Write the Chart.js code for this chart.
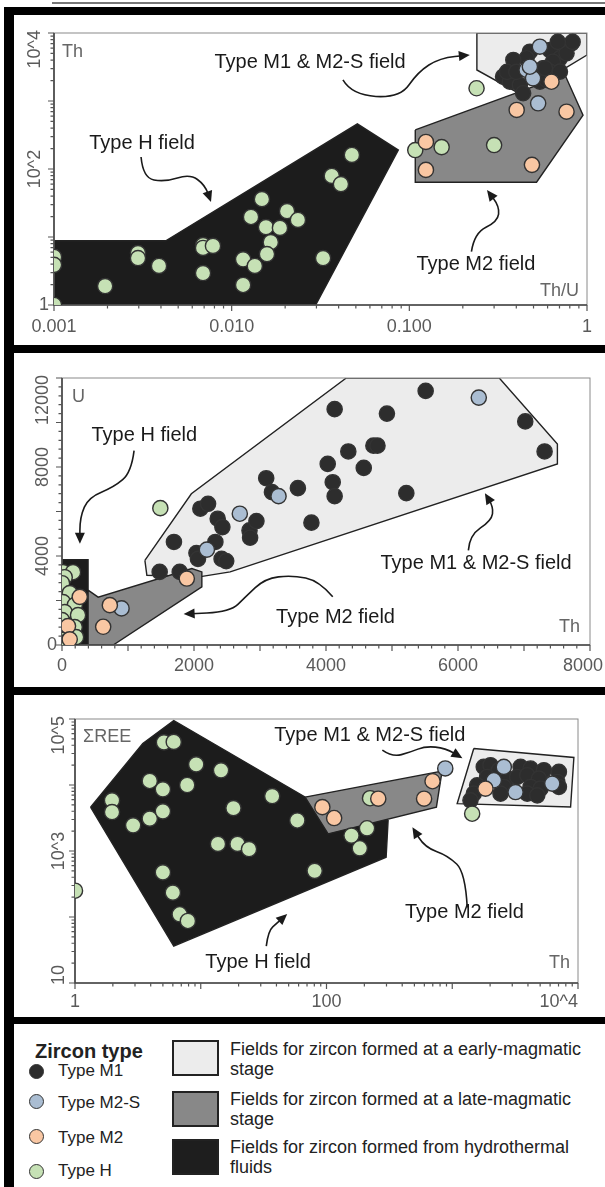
<!DOCTYPE html>
<html>
<head>
<meta charset="utf-8">
<script src="https://cdn.jsdelivr.net/npm/chart.js@4.4.0/dist/chart.umd.min.js"></script>
<style>
  body { margin: 0; background: #fff; width: 605px; height: 1187px; overflow: hidden; position: relative;
         font-family: "Liberation Sans", Arial, Helvetica, sans-serif; color: #222; }
  .bar { position: absolute; background: #000; }
  .panel { position: absolute; left: 15px; }
  .dot { position: absolute; width: 13px; height: 13px; border-radius: 50%; border: 1.5px solid #333; }
  .lt { position: absolute; left: 58px; font-size: 17px; line-height: 20px; }
  .sw { position: absolute; left: 172px; width: 43px; height: 32px; border: 2px solid #222; }
  .st { position: absolute; left: 230px; font-size: 18px; line-height: 20px; white-space: nowrap; }
</style>
</head>
<body>
<div style="position:absolute;left:52px;top:2px;width:553px;height:2px;background:#777"></div>
<div class="bar" style="left:4px;top:7px;width:10px;height:1180px"></div>
<div class="bar" style="left:4px;top:7px;width:601px;height:8px"></div>
<div class="bar" style="left:4px;top:345px;width:601px;height:8px"></div>
<div class="bar" style="left:4px;top:687px;width:601px;height:8px"></div>
<div class="bar" style="left:4px;top:1017px;width:601px;height:7px"></div>

<div class="panel" style="top:15px"><canvas id="c1" width="590" height="330"></canvas></div>
<div class="panel" style="top:353px"><canvas id="c2" width="590" height="334"></canvas></div>
<div class="panel" style="top:695px"><canvas id="c3" width="590" height="322"></canvas></div>

<!-- legend -->
<div style="position:absolute;left:35px;top:1039px;font-size:20px;font-weight:bold;line-height:24px">Zircon type</div>
<div class="dot" style="left:29px;top:1064px;background:#2d2d2d"></div><div class="lt" style="top:1061px">Type M1</div>
<div class="dot" style="left:29px;top:1094px;background:#aabdd2"></div><div class="lt" style="top:1093px">Type M2-S</div>
<div class="dot" style="left:29px;top:1129px;background:#f9c7a3"></div><div class="lt" style="top:1128px">Type M2</div>
<div class="dot" style="left:29px;top:1164px;background:#c6e1b5"></div><div class="lt" style="top:1161px">Type H</div>
<div class="sw" style="top:1040px;background:#ececec"></div>
<div class="st" style="top:1039px">Fields for zircon formed at a early-magmatic<br>stage</div>
<div class="sw" style="top:1091px;background:#888"></div>
<div class="st" style="top:1089px">Fields for zircon formed at a late-magmatic<br>stage</div>
<div class="sw" style="top:1139px;background:#1e1e1e"></div>
<div class="st" style="top:1137px">Fields for zircon formed from hydrothermal<br>fluids</div>

<script>
// ---------- panel 1 : Th/U vs Th ----------
const thu_M1 = [[0.818,7060],[0.704,6660],[0.618,5620],[0.477,5310],[0.457,4250],[0.385,4010],[0.704,4250],
  [0.767,5030],[0.643,3780],[0.565,3030],[0.618,2700],[0.337,2280],[0.368,1920],[0.419,1720],[0.437,1300],
  [0.543,1920],[0.593,2040],[0.704,2700],[0.83,7400],[0.685,7400],[0.355,2680],[0.40,2680],[0.58,3050],[0.495,2250]];
const thu_M2S = [[0.543,6290],[0.457,2860],[0.497,2160],[0.531,925],[0.477,3190]];
const thu_M2 = [[0.124,250],[0.124,97],[0.49,115],[0.402,738],[0.767,696],[0.631,1920]];
const thu_H = [[0.001,5.1],[0.001,3.9],[0.001,1],[0.00194,1.9],[0.00297,5.8],[0.00297,4.9],[0.0039,3.75],
  [0.0069,7.6],[0.0069,6.9],[0.00785,7.4],[0.0069,2.95],[0.0116,4.7],[0.0116,1.97],[0.0135,3.75],[0.01285,19.7],
  [0.0148,36],[0.0156,14],[0.0166,8.4],[0.0158,5.6],[0.0187,13.6],[0.0205,24],[0.0236,17.8],[0.0327,4.9],
  [0.0366,79],[0.0412,60],[0.0475,161],[0.108,190],[0.152,210],[0.30,225],[0.239,1540]];
const thu_fieldH = [[0.001,1],[0.001,8.8],[0.00426,8.8],[0.051,460],[0.0867,190],[0.0297,1]];
const thu_fieldM2 = [[0.108,375],[0.752,2410],[0.95,620],[0.52,64],[0.108,64]];
const thu_fieldM1 = [[0.24,10000],[0.24,2860],[0.45,1150],[0.70,2700],[1,4750],[1,10000]];
const thu_xTickVals = [0.001, 0.01, 0.1, 1];
const thu_xTickText = ['0.001', '0.010', '0.100', '1'];
const thu_yTickVals = [1, 100, 10000];
const thu_yTickText = ['1', '10^2', '10^4'];
const thu_notes = [['Type M1 & M2-S field', 0.0276, 3630], ['Type H field', 0.00313, 241], ['Type M2 field', 0.237, 3.88]];
const thu_arrows = [
  [[0.0423,2040],[0.0475,1225],[0.0885,1107],[0.1117,2670],[0.1486,4290],[0.219,4750]],
  [[0.00309,150],[0.00317,73.7],[0.00421,64.4],[0.00582,84.4],[0.00708,58.2],[0.00765,32.7]],
  [[0.2236,6.08],[0.2323,11.45],[0.314,16.8],[0.322,27.9],[0.2735,49.1]]
];

// ---------- panel 2 : Th vs U ----------
const u_M1 = [[5510,11420],[4131,10600],[4923,10400],[7019,10050],[7312,8700],[4338,8700],[4718,8960],[4780,8960],
  [4026,8140],[4572,7960],[4102,7315],[4131,6690],[3094,7495],[3181,6870],[3574,7050],[5217,6825],[3779,5500],
  [2096,6125],[2213,6345],[2359,5675],[2430,5300],[2841,5150],[2946,5570],[2850,4820],[1696,4630],[2324,4630],
  [2037,4135],[2060,3870],[2418,3870],[2488,3770],[1480,3285],[1784,3285]];
const u_M2S = [[6315,11120],[3281,6690],[2694,5900],[2195,4285],[902,1644]];
const u_M2 = [[1891,2987],[269,2164],[725,1792],[624,820],[91,851],[117,255]];
const u_H = [[1490,6150],[15,3270],[167,3270],[41,3046],[0,2777],[117,2330],[15,1926],[193,1792],[41,1478],
  [243,1344],[0,1120],[193,806],[15,672],[213,358],[0,224],[61,134]];
const u_fieldH = [[0,0],[0,3839],[395,3839],[395,0]];
const u_fieldM2 = [[395,2464],[548,2150],[1967,3436],[2119,3283],[2119,2612],[776,0],[395,0]];
const u_fieldM1 = [[1256,3807],[1960,6795],[4307,12000],[6625,12000],[7506,9035],[7506,8140],[2548,3285],[2078,3060],[1286,3135]];
const u_xTickVals = [0, 2000, 4000, 6000, 8000];
const u_xTickText = ['0', '2000', '4000', '6000', '8000'];
const u_yTickVals = [0, 4000, 8000, 12000];
const u_yTickText = ['0', '4000', '8000', '12000'];
const u_notes = [['Type H field', 1247, 9406], ['Type M1 & M2-S field', 6274, 3650], ['Type M2 field', 4144, 1232]];
const u_arrows = [
  [[1092,8735],[1051,7764],[787,7092],[406,6644],[271,5748],[271,4555]],
  [[4102,2164],[3897,2880],[3486,3135],[3075,2987],[2782,2164],[2548,1492],[1843,1389]],
  [[6157,4255],[6173,4927],[6508,5599],[6537,6195],[6408,6823]]
];

// ---------- panel 3 : Th vs sum REE ----------
const ree_M1 = [[1781,18800],[2014,19950],[2344,16750],[3493,18800],[4195,17780],[5354,16750],[7047,15790],
  [1895,13250],[2737,12500],[3286,13250],[3948,14060],[4886,12500],[6839,11120],[1578,9890],[2571,9330],
  [4195,9330],[5036,8810],[7047,9330],[1483,7390],[2420,7390],[3948,7390],[4744,6970],[1396,5850]];
const ree_M2S = [[2571,18800],[2140,11800],[6242,10500],[3187,7820],[880,17800]];
const ree_M2 = [[92.7,4620],[115,3160],[258,6200],[597,6200],[697,11400],[1837,8810]];
const ree_H = [[1,250],[1.97,5840],[1.97,3890],[2.9,2450],[3.93,11500],[3.93,3090],[5.1,44200],[6.1,45000],
  [5.0,8600],[5.0,3990],[5.0,474],[6.0,234],[6.8,110],[7.9,87],[7.8,10000],[9.2,20500],[14.5,16700],[13.7,1280],
  [19.6,1280],[24.2,1070],[18.2,4470],[37,6800],[58.6,2900],[80.5,500],[158,1710],[210,2210],[184,1100],
  [222,6300],[1440,3670]];
const ree_fieldH = [[1.33,4620],[3.46,42700],[6.1,95000],[67.6,6560],[309,2900],[298,804],[6.1,36.3]];
const ree_fieldM2 = [[67.6,6560],[830,16200],[748,4620],[103,1820]];
const ree_fieldM1 = [[1483,35800],[9275,26100],[8730,4630],[1094,5210]];
const ree_xTickVals = [1, 100, 10000];
const ree_xTickText = ['1', '100', '10^4'];
const ree_yTickVals = [10, 1000, 100000];
const ree_yTickText = ['10', '10^3', '10^5'];
const ree_notes = [['Type M1 & M2-S field', 221, 57000], ['Type M2 field', 1250, 117.5], ['Type H field', 28.6, 20.4]];
const ree_arrows = [
  [[33.2,36.3],[34.4,61.4],[40.6,81.3],[48.7,111]],
  [[1316,139],[1271,474],[925,851],[605,1138],[482,2297]],
  [[278,33700],[334,26400],[465,31500],[612,38800],[883,36200],[1205,25500]]
];

const FONT = '"Liberation Sans", Arial, Helvetica, sans-serif';
const COL = { M1: '#2d2d2d', M2S: '#aabdd2', M2: '#f9c7a3', H: '#c6e1b5',
              fM1: '#ececec', fM2: '#888888', fH: '#1c1c1c' };

function logMinor(e0, e1) {
  const out = [];
  for (let e = e0; e < e1; e++) for (let k = 2; k <= 9; k++) out.push(k * Math.pow(10, e));
  return out;
}
function logMajor(e0, e1) {
  const out = [];
  for (let e = e0; e <= e1; e++) out.push(Math.pow(10, e));
  return out;
}
function steps(a, b, s, skip) {
  const out = [];
  for (let v = a; v <= b + 1e-9; v += s) if (!skip || v % skip !== 0) out.push(v);
  return out;
}

const cfgs = {};

function drawArrow(ctx, p) {
  ctx.beginPath();
  ctx.moveTo(p[0][0], p[0][1]);
  for (let i = 1; i < p.length - 1; i++) {
    ctx.quadraticCurveTo(p[i][0], p[i][1], (p[i][0] + p[i + 1][0]) / 2, (p[i][1] + p[i + 1][1]) / 2);
  }
  const e = p[p.length - 1], b = p[p.length - 2];
  const ang = Math.atan2(e[1] - b[1], e[0] - b[0]);
  const L = 11, W = 5;
  ctx.lineTo(e[0] - Math.cos(ang) * L * 0.7, e[1] - Math.sin(ang) * L * 0.7);
  ctx.stroke();
  ctx.beginPath();
  ctx.moveTo(e[0], e[1]);
  ctx.lineTo(e[0] - L * Math.cos(ang) + W * Math.sin(ang), e[1] - L * Math.sin(ang) - W * Math.cos(ang));
  ctx.lineTo(e[0] - L * Math.cos(ang) - W * Math.sin(ang), e[1] - L * Math.sin(ang) + W * Math.cos(ang));
  ctx.closePath();
  ctx.fill();
}

const framePlugin = {
  id: 'frame',
  afterDatasetDraw(chart, args) {
    if (!chart.data.datasets[args.index].lastField) return;
    const a = chart.chartArea, ctx = chart.ctx;
    ctx.save();
    ctx.strokeStyle = '#8a8a8a'; ctx.lineWidth = 1;
    ctx.strokeRect(a.left, a.top, a.right - a.left, a.bottom - a.top);
    ctx.strokeStyle = '#444'; ctx.lineWidth = 1.6;
    ctx.beginPath();
    ctx.moveTo(a.left, a.top); ctx.lineTo(a.left, a.bottom); ctx.lineTo(a.right, a.bottom);
    ctx.stroke();
    ctx.restore();
  },
  afterDatasetsDraw(chart) {
    const c = cfgs[chart.canvas.id], ctx = chart.ctx, a = chart.chartArea;
    const xs = chart.scales.x, ys = chart.scales.y;
    ctx.save();
    ctx.fillStyle = '#1a1a1a'; ctx.strokeStyle = '#1a1a1a'; ctx.lineWidth = 1.6;
    ctx.font = '20px ' + FONT; ctx.textAlign = 'center'; ctx.textBaseline = 'middle';
    c.notes.forEach(n => ctx.fillText(n[0], xs.getPixelForValue(n[1]), ys.getPixelForValue(n[2])));
    c.arrows.forEach(ar => drawArrow(ctx, ar.map(q => [xs.getPixelForValue(q[0]), ys.getPixelForValue(q[1])])));
    // axis names inside the frame
    ctx.fillStyle = '#666'; ctx.font = '18px ' + FONT;
    ctx.textAlign = 'left';
    ctx.fillText(c.yName, a.left + c.yNamePos[0], a.top + c.yNamePos[1]);
    ctx.textAlign = 'right';
    ctx.fillText(c.xName, a.right - c.xNamePos[0], a.bottom - c.xNamePos[1]);
    ctx.restore();
  },
  afterDraw(chart) {
    const c = cfgs[chart.canvas.id], ctx = chart.ctx, a = chart.chartArea;
    const xs = chart.scales.x, ys = chart.scales.y;
    ctx.save();
    ctx.strokeStyle = '#555'; ctx.lineWidth = 1.2;
    ctx.beginPath();
    c.xLong.forEach(v => { const px = xs.getPixelForValue(v); ctx.moveTo(px, a.bottom); ctx.lineTo(px, a.bottom + 6); });
    c.xShort.forEach(v => { const px = xs.getPixelForValue(v); ctx.moveTo(px, a.bottom); ctx.lineTo(px, a.bottom + 3.5); });
    c.yLong.forEach(v => { const py = ys.getPixelForValue(v); ctx.moveTo(a.left, py); ctx.lineTo(a.left - 6, py); });
    c.yShort.forEach(v => { const py = ys.getPixelForValue(v); ctx.moveTo(a.left, py); ctx.lineTo(a.left - 3.5, py); });
    ctx.stroke();
    ctx.fillStyle = '#5a5a5a'; ctx.font = '18px ' + FONT;
    ctx.textAlign = 'center'; ctx.textBaseline = 'middle';
    c.xTickVals.forEach((v, i) => {
      const t = c.xTickText[i], w = ctx.measureText(t).width;
      let px = xs.getPixelForValue(v);
      if (c.lastRight && i === c.xTickVals.length - 1) px -= w / 2;
      px = Math.min(px, chart.width - w / 2 - 2);
      ctx.fillText(t, px, a.bottom + c.xGap);
    });
    c.yTickVals.forEach((v, i) => {
      const t = c.yTickText[i], w = ctx.measureText(t).width;
      let py = ys.getPixelForValue(v);
      if (t.length === 1) {
        ctx.textAlign = 'right';
        ctx.fillText(t, a.left - 5, py);
        ctx.textAlign = 'center';
        return;
      }
      py = Math.max(a.top + w / 2 - 3, Math.min(a.bottom - w / 2 + 2, py));
      ctx.save();
      ctx.translate(a.left - c.yGap, py);
      ctx.rotate(-Math.PI / 2);
      ctx.fillText(t, 0, 0);
      ctx.restore();
    });
    ctx.restore();
  }
};

function makeChart(id, c) {
  cfgs[id] = c;
  const pts = arr => arr.map(p => ({ x: p[0], y: p[1] }));
  const field = (arr, color, order, last) => ({
    type: 'line', data: pts(arr.concat([arr[0]])), fill: 'shape', backgroundColor: color,
    borderColor: '#222', borderWidth: 1.4, pointRadius: 0, tension: 0, order: order, lastField: !!last
  });
  const group = (arr, color, order) => ({
    data: pts(arr), backgroundColor: color, borderColor: '#333', borderWidth: 1.4,
    pointRadius: 7.6, pointHoverRadius: 7.6, order: order
  });
  const axis = (type, min, max, fit) => ({
    type: type, min: min, max: max,
    ticks: { display: false }, grid: { display: false }, border: { display: false },
    afterFit: fit
  });
  new Chart(document.getElementById(id), {
    type: 'scatter',
    data: {
      datasets: [
        group(c.M2, COL.M2, 0),
        group(c.M2S, COL.M2S, 1),
        group(c.H, COL.H, 2),
        group(c.M1, COL.M1, 3),
        field(c.fM2, COL.fM2, 5, true),
        field(c.fM1, COL.fM1, 6),
        field(c.fH, COL.fH, 7)
      ]
    },
    options: {
      responsive: false,
      animation: false,
      events: [],
      layout: { padding: { top: c.pad[0], right: c.pad[1], bottom: 0, left: 0 } },
      plugins: { legend: { display: false }, tooltip: { enabled: false } },
      scales: {
        x: axis(c.xType, c.xMin, c.xMax, s => { s.height = c.xAxisH; }),
        y: axis(c.yType, c.yMin, c.yMax, s => { s.width = c.yAxisW; })
      }
    },
    plugins: [framePlugin]
  });
}

makeChart('c1', {
  M1: thu_M1, M2S: thu_M2S, M2: thu_M2, H: thu_H, fM1: thu_fieldM1, fM2: thu_fieldM2, fH: thu_fieldH,
  xType: 'logarithmic', xMin: 0.001, xMax: 1, yType: 'logarithmic', yMin: 1, yMax: 10000,
  pad: [18, 18], yAxisW: 39, xAxisH: 40,
  xLong: logMajor(-3, 0), xShort: logMinor(-3, 0), yLong: logMajor(0, 4), yShort: logMinor(0, 4),
  xTickVals: thu_xTickVals, xTickText: thu_xTickText, yTickVals: thu_yTickVals, yTickText: thu_yTickText,
  xGap: 22, yGap: 19,
  notes: thu_notes, arrows: thu_arrows,
  yName: 'Th', yNamePos: [8, 19], xName: 'Th/U', xNamePos: [8, 14]
});

makeChart('c2', {
  M1: u_M1, M2S: u_M2S, M2: u_M2, H: u_H, fM1: u_fieldM1, fM2: u_fieldM2, fH: u_fieldH,
  xType: 'linear', xMin: 0, xMax: 8000, yType: 'linear', yMin: 0, yMax: 12000,
  pad: [25, 15], yAxisW: 47, xAxisH: 42,
  xLong: steps(0, 8000, 1000), xShort: steps(0, 8000, 200, 1000),
  yLong: steps(0, 12000, 2000), yShort: steps(0, 12000, 400, 2000),
  xTickVals: u_xTickVals, xTickText: u_xTickText, yTickVals: u_yTickVals, yTickText: u_yTickText,
  xGap: 21, yGap: 19,
  notes: u_notes, arrows: u_arrows,
  yName: 'U', yNamePos: [10, 19], xName: 'Th', xNamePos: [10, 18]
});

makeChart('c3', {
  M1: ree_M1, M2S: ree_M2S, M2: ree_M2, H: ree_H, fM1: ree_fieldM1, fM2: ree_fieldM2, fH: ree_fieldH,
  xType: 'logarithmic', xMin: 1, xMax: 10000, yType: 'logarithmic', yMin: 10, yMax: 100000,
  pad: [24, 27], yAxisW: 60, xAxisH: 34,
  xLong: logMajor(0, 4), xShort: logMinor(0, 4), yLong: logMajor(1, 5), yShort: logMinor(1, 5),
  xTickVals: ree_xTickVals, xTickText: ree_xTickText, yTickVals: ree_yTickVals, yTickText: ree_yTickText,
  xGap: 19, yGap: 16, lastRight: true,
  notes: ree_notes, arrows: ree_arrows,
  yName: 'ΣREE', yNamePos: [8, 18], xName: 'Th', xNamePos: [8, 20]
});
</script>
</body>
</html>
